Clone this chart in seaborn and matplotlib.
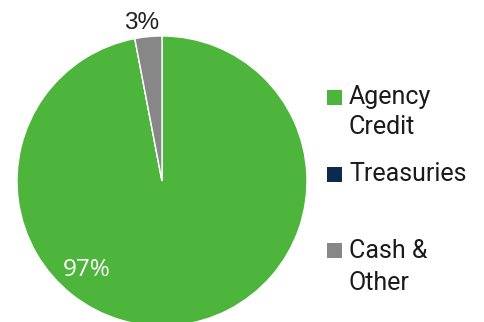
import seaborn as sns
import matplotlib.pyplot as plt
from matplotlib.patches import Rectangle

# Data
categories = ["Agency Credit", "Treasuries", "Cash & Other"]
shares = [97, 0, 3]
colors = ["#4DB43C", "#0C2A4D", "#878787"]
legend_lines = [["Agency", "Credit"], ["Treasuries"], ["Cash &", "Other"]]

sns.set_theme(style="white")
plt.rcParams["font.family"] = ["Roboto", "DejaVu Sans"]

fig = plt.figure(figsize=(4.84, 3.22), dpi=100)
# pie: centre (162, 181) px, radius 145 px
ax = fig.add_axes([17 / 484, (322 - 326) / 322, 290 / 484, 290 / 322])
ax.pie(shares, colors=colors, startangle=90, counterclock=False,
       wedgeprops=dict(edgecolor="white", linewidth=1))
ax.set_xlim(-1, 1)
ax.set_ylim(-1, 1)
ax.set_aspect("equal")
ax.axis("off")

# percentage labels
ax.text(-0.14, 1.046, f"{shares[2]}%", ha="center", va="baseline",
        fontsize=17.5, color="#222222", family=["Liberation Sans"])
ax.text(-0.522, -0.655, f"{shares[0]}%", ha="center", va="baseline",
        fontsize=17.5, color="white", family=["Open Sans"])

# legend, placed by hand (pixel positions)
squares_y = [90, 167, 243]
baselines = [[104, 134], [181], [258, 290]]
for col, lines, sy, bls in zip(colors, legend_lines, squares_y, baselines):
    fig.add_artist(Rectangle((327 / 484, 1 - (sy + 15) / 322), 15 / 484, 15 / 322,
                             transform=fig.transFigure, color=col, lw=0))
    for line, bl in zip(lines, bls):
        fig.text(349 / 484, 1 - bl / 322, line, ha="left", va="baseline",
                 fontsize=18, color="#1a1a1a")

fig.savefig("out.png", dpi=100)
plt.close(fig)
